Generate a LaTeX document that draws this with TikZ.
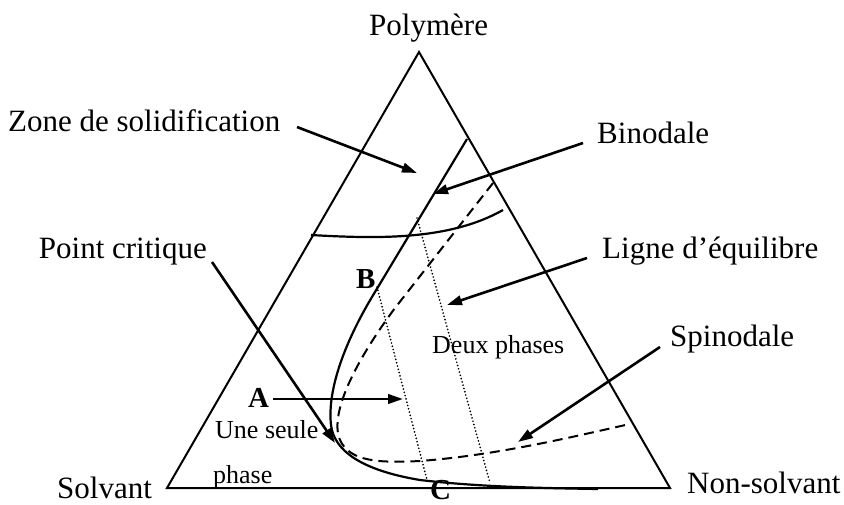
\documentclass[tikz,border=0pt]{standalone}
\usepackage{fontspec}
\setmainfont{Liberation Serif}
\usetikzlibrary{arrows.meta}
\begin{document}
\begin{tikzpicture}[x=1pt,y=-1pt,
  lbl/.style={font=\fontsize{31}{31}\selectfont, inner sep=0pt},
  small/.style={font=\fontsize{26}{26}\selectfont, inner sep=0pt},
  ptlbl/.style={font=\fontsize{29}{29}\selectfont\bfseries, inner sep=0pt},
  ptr/.style={line width=2.6pt, -{Triangle[length=15pt,width=9.5pt]}},
  edge/.style={line width=2pt, line join=miter},
  bino/.style={line width=2.2pt},
  dsh/.style={line width=2pt, dash pattern=on 10pt off 6pt},
  dotl/.style={line width=1.9pt, line cap=round, dash pattern=on 0pt off 3.4pt}]
\useasboundingbox (0,0) rectangle (844,504);
% triangle corners
\coordinate (P) at (419,52);
\coordinate (S) at (167,488);
\coordinate (N) at (670,488);
\draw[edge] (P) -- (S) -- (N) -- cycle;
% tie lines (dotted)
\coordinate (t1a) at (377,287);
\coordinate (t1b) at (427,480);
\coordinate (t2a) at (417,218);
\coordinate (t2b) at (490,483);
\draw[dotl] (t1a) -- (t1b);
\draw[dotl] (t2a) -- (t2b);
% solidification boundary
\coordinate (z1) at (311,235);
\coordinate (z2) at (503,210);
\draw[bino] (z1) .. controls (380,239) and (450,240) .. (z2);
% binodal
\coordinate (b0) at (467,139);
\coordinate (b1) at (372,297);
\coordinate (b2) at (331,425);
\coordinate (b3) at (420,480);
\coordinate (b4) at (598,489);
\draw[bino] (b0) -- (b1) .. controls (345,342) and (327,390) .. (b2)
  .. controls (334,450) and (360,470) .. (b3)
  .. controls (480,487) and (540,488) .. (b4);
% spinodal (dashed)
\coordinate (d0) at (493,183);
\coordinate (d1) at (395,308);
\coordinate (d2) at (340,440);
\coordinate (d3) at (420,461);
\coordinate (d4) at (630,424);
\draw[dsh] (d0) -- (d1) .. controls (360,355) and (328,412) .. (d2)
  .. controls (350,462) and (380,463) .. (d3)
  .. controls (500,455) and (580,435) .. (d4);
% labels
\node[lbl, anchor=base west] (polym) at (369,35) {Polymère};
\node[lbl, anchor=base west] (zone) at (8,131) {Zone de solidification};
\node[lbl, anchor=base west] (binod) at (597,143) {Binodale};
\node[lbl, anchor=base east] (pcrit) at (207,258) {Point critique};
\node[lbl, anchor=base west] (ligne) at (602,258) {Ligne d’équilibre};
\node[lbl, anchor=base west] (spino) at (670,346) {Spinodale};
\node[lbl, anchor=base west] (solv) at (57,498) {Solvant};
\node[lbl, anchor=base west] (nonsolv) at (687,493) {Non-solvant};
\node[small, anchor=base west] (une) at (215,438) {Une seule};
\node[small, anchor=base west] (phase) at (213,483) {phase};
\node[small, anchor=base west] (deux) at (432,353) {Deux phases};
\node[ptlbl, anchor=base west] (A) at (248,407) {A};
\node[ptlbl, anchor=base west] (B) at (356,288) {B};
\node[ptlbl, anchor=base west] (C) at (430,499) {C};
% arrows
\coordinate (zt) at (297,127);
\coordinate (zh) at (417,173);
\draw[ptr] (zt) -- (zh);
\coordinate (bt) at (583,143);
\coordinate (bh) at (433,194);
\draw[ptr] (bt) -- (bh);
\coordinate (lt) at (587,258);
\coordinate (lh) at (447,305);
\draw[ptr] (lt) -- (lh);
\coordinate (ct) at (212,262);
\coordinate (ch) at (335,443);
\draw[ptr] (ct) -- (ch);
\coordinate (st) at (660,347);
\coordinate (sh) at (518,442);
\draw[ptr] (st) -- (sh);
\coordinate (at) at (273,399);
\coordinate (ah) at (403,399);
\draw[ptr] (at) -- (ah);
\end{tikzpicture}
\end{document}
